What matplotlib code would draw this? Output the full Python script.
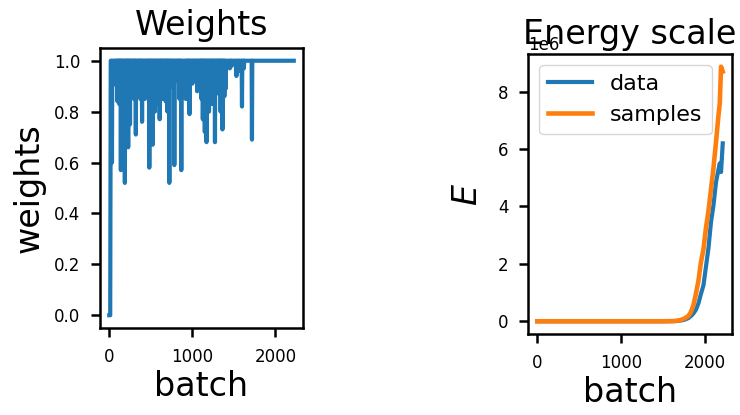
import matplotlib
matplotlib.use("Agg")
import matplotlib.pyplot as plt
import numpy as np

# ---- Weights panel data ----
# start of the series (batch, weight)
start_batch = [0, 12, 18]
start_weight = [0.0, 0.0, 1.0]
# dips below 1.0 (batch, weight); between dips the weight is back at 1.0
dip_batch = [33, 68, 90, 100, 110, 120, 130, 140, 150, 160, 175, 188, 197, 205, 217,
             228, 240, 250, 262, 272, 288, 300, 310, 320, 335, 350, 362, 375, 385,
             395, 412, 430, 445, 460, 470, 482, 492, 500, 512, 523, 537, 550, 563,
             577, 592, 607, 618, 630, 641, 651, 665, 680, 690, 700, 712, 723, 737,
             751, 767, 783, 800, 817, 831, 845, 856, 867, 920, 932, 945, 955, 966,
             983, 1000, 1015, 1030, 1044, 1058, 1074, 1090, 1100, 1110, 1118, 1126,
             1138, 1150, 1160, 1170, 1185, 1200, 1213, 1226, 1238, 1250, 1261, 1272,
             1286, 1300, 1310, 1320, 1330, 1340, 1351, 1362, 1373, 1385, 1400, 1450,
             1475, 1530, 1560, 1597, 1620, 1717]
dip_weight = [0.60, 0.94, 0.90, 0.84, 0.88, 0.83, 0.86, 0.57, 0.84, 0.75, 0.85, 0.52,
              0.86, 0.70, 0.86, 0.66, 0.88, 0.75, 0.92, 0.96, 0.90, 0.85, 0.88, 0.71,
              0.90, 0.94, 0.90, 0.85, 0.88, 0.76, 0.88, 0.85, 0.90, 0.88, 0.90, 0.58,
              0.87, 0.80, 0.88, 0.67, 0.87, 0.80, 0.88, 0.83, 0.89, 0.77, 0.88, 0.85,
              0.90, 0.85, 0.88, 0.84, 0.90, 0.80, 0.90, 0.52, 0.92, 0.90, 0.93, 0.59,
              0.93, 0.92, 0.92, 0.85, 0.92, 0.57, 0.85, 0.90, 0.85, 0.90, 0.79, 0.92,
              0.91, 0.93, 0.92, 0.92, 0.88, 0.92, 0.90, 0.91, 0.85, 0.88, 0.77, 0.85,
              0.72, 0.84, 0.68, 0.86, 0.80, 0.88, 0.83, 0.88, 0.83, 0.87, 0.68, 0.90,
              0.88, 0.90, 0.87, 0.90, 0.80, 0.88, 0.73, 0.90, 0.86, 0.89, 0.97, 0.98,
              0.94, 0.96, 0.82, 0.97, 0.69]
end_batch = 2220

# ---- Energy panel data ----
energy_batch = [0, 500, 1000, 1500, 1600, 1650, 1700, 1750, 1800, 1830, 1860, 1890,
                1920, 1950, 1980, 2010, 2040, 2070, 2100, 2130, 2160, 2175, 2190, 2210]
energy_data = [0.0, 0.0, 0.0, 0.0, 0.004, 0.008, 0.02, 0.05, 0.11, 0.18, 0.27, 0.4,
               0.62, 0.95, 1.25, 1.9, 2.55, 3.45, 4.05, 4.85, 5.3, 5.5, 5.2, 6.2]
energy_samples = [0.0, 0.0, 0.0, 0.0, 0.006, 0.012, 0.035, 0.09, 0.18, 0.32, 0.55, 0.95,
                  1.4, 2.05, 2.5, 3.25, 3.85, 4.6, 5.35, 6.25, 7.2, 7.6, 8.87, 8.7]
energy_scale = 1e6

# build weights line: back to 1.0 between dips
wx = list(start_batch)
wy = list(start_weight)
for b, v in zip(dip_batch, dip_weight):
    wx += [b - 4, b, b + 4]
    wy += [1.0, v, 1.0]
wx.append(end_batch)
wy.append(1.0)

fig = plt.figure(figsize=(7.4, 4.15), dpi=100)
ax1 = fig.add_axes([100 / 740, (415 - 328) / 415, 203 / 740, 280 / 415])
ax2 = fig.add_axes([528 / 740, (415 - 334) / 415, 204 / 740, 280 / 415])

blue = "#1f77b4"
orange = "#ff7f0e"

ax1.plot(wx, wy, color=blue, lw=3)
ax1.set_title("Weights", fontsize=24, pad=9, y=1.0)
ax1.set_xlabel("batch", fontsize=24, labelpad=3)
ax1.set_ylabel("weights", fontsize=24, labelpad=6)
ax1.set_yticks([0.0, 0.2, 0.4, 0.6, 0.8, 1.0])
ax1.set_xticks([0, 1000, 2000])

ax2.plot(energy_batch, np.array(energy_data) * energy_scale, color=blue, lw=3, label="data")
ax2.plot(energy_batch, np.array(energy_samples) * energy_scale, color=orange, lw=3.3, label="samples")
ax2.set_title("Energy scale", fontsize=24, pad=7, y=1.0)
ax2.set_xlabel("batch", fontsize=24, labelpad=3)
ax2.set_ylabel(r"$E$", fontsize=24, labelpad=10)
ax2.set_xticks([0, 1000, 2000])
ax2.set_yticks([0, 2e6, 4e6, 6e6, 8e6])
ax2.legend(loc="upper left", fontsize=16)
ax2.yaxis.get_offset_text().set_fontsize(12)

for ax in (ax1, ax2):
    ax.tick_params(labelsize=12, length=6.7, width=1.8, pad=7.5)
    for s in ax.spines.values():
        s.set_linewidth(1.8)

fig.savefig("out.png", dpi=100)
